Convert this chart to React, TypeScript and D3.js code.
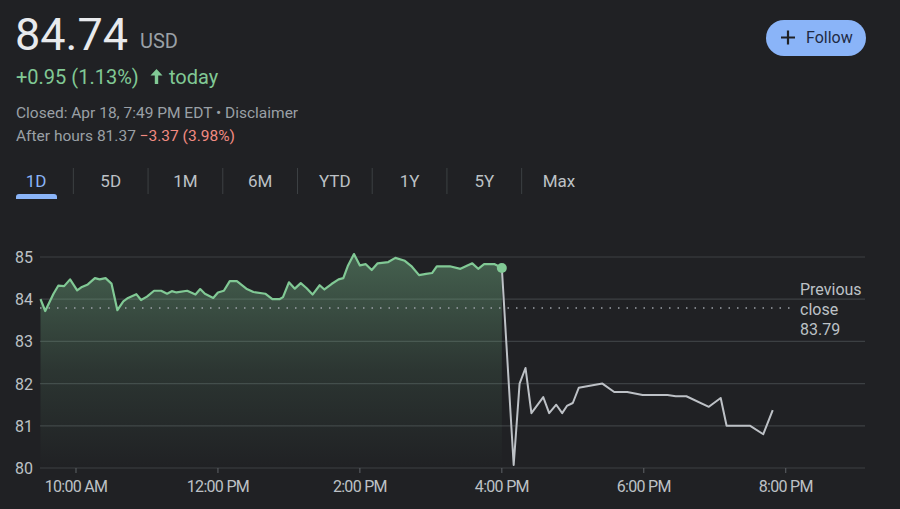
import * as d3 from "d3";

// regular session (Apr 18)
const regularTimes = [
  "09:30", "09:34", "09:41", "09:45", "09:50", "09:55", "10:01", "10:05", "10:10", "10:16",
  "10:20", "10:25", "10:30", "10:35", "10:40", "10:44", "10:51", "10:55", "11:00", "11:06",
  "11:12", "11:17", "11:21", "11:25", "11:34", "11:41", "11:45", "11:49", "11:56", "12:00",
  "12:05", "12:10", "12:16", "12:24", "12:30", "12:40", "12:46", "12:52", "12:55", "13:00",
  "13:05", "13:10", "13:15", "13:20", "13:26", "13:30", "13:36", "13:42", "13:46", "13:50",
  "13:55", "14:00", "14:05", "14:10", "14:15", "14:24", "14:30", "14:38", "14:44", "14:50",
  "14:56", "15:01", "15:05", "15:16", "15:25", "15:35", "15:40", "15:45", "15:54", "16:00",
];
const regularPrices = [
  84.0, 83.72, 84.13, 84.32, 84.31, 84.47, 84.21, 84.29, 84.35, 84.5,
  84.47, 84.5, 84.37, 83.74, 83.95, 84.03, 84.12, 83.98, 84.06, 84.2,
  84.2, 84.13, 84.19, 84.16, 84.2, 84.11, 84.24, 84.13, 84.03, 84.16,
  84.2, 84.43, 84.43, 84.25, 84.17, 84.13, 84.0, 84.0, 84.05, 84.4,
  84.25, 84.38, 84.26, 84.11, 84.33, 84.23, 84.36, 84.47, 84.5, 84.8,
  85.07, 84.8, 84.83, 84.69, 84.85, 84.88, 84.98, 84.91, 84.77, 84.57,
  84.6, 84.62, 84.78, 84.78, 84.72, 84.85, 84.72, 84.83, 84.83, 84.74,
];

// after hours
const afterTimes = [
  "16:00", "16:10", "16:15", "16:20", "16:25", "16:35", "16:40", "16:46", "16:51", "16:55",
  "17:00", "17:05", "17:25", "17:35", "17:46", "17:59", "18:20", "18:27", "18:36", "18:55",
  "19:05", "19:10", "19:30", "19:41", "19:49",
];
const afterPrices = [
  84.74, 80.07, 82.0, 82.37, 81.3, 81.68, 81.3, 81.5, 81.3, 81.47,
  81.54, 81.9, 82.0, 81.8, 81.8, 81.73, 81.73, 81.7, 81.7, 81.45,
  81.66, 81.0, 81.0, 80.8, 81.37,
];

const previousClose = 83.79;
const yTicks = [80, 81, 82, 83, 84, 85];
const xTickTimes = ["10:00", "12:00", "14:00", "16:00", "18:00", "20:00"];
const xTickLabels = ["10:00 AM", "12:00 PM", "2:00 PM", "4:00 PM", "6:00 PM", "8:00 PM"];
const tabs = ["1D", "5D", "1M", "6M", "YTD", "1Y", "5Y", "Max"];

const W = 900;
const H = 509;
const FONT = "Roboto, 'Noto Sans', sans-serif";

const parse = d3.timeParse("%Y-%m-%d %H:%M");
const t = (s: string) => parse("2024-04-18 " + s) as Date;

export default function App() {
  const x = d3.scaleTime()
    .domain([t("09:30"), t("21:07")])
    .range([40.5, 865]);
  const y = d3.scaleLinear()
    .domain([80, 85])
    .range([468, 257]);

  const regular = regularTimes.map((s, i) => ({ d: t(s), v: regularPrices[i] }));
  const after = afterTimes.map((s, i) => ({ d: t(s), v: afterPrices[i] }));

  const line = d3.line<{ d: Date; v: number }>()
    .x(p => x(p.d))
    .y(p => y(p.v));
  const area = d3.area<{ d: Date; v: number }>()
    .x(p => x(p.d))
    .y0(y(80))
    .y1(p => y(p.v));

  const last = regular[regular.length - 1];
  const tabX = d3.scaleLinear().domain([0, 7]).range([36, 559]);

  return (
    <svg width={W} height={H}
      style={{ position: "absolute", left: 0, top: 0, display: "block", background: "#202124" }}
      fontFamily={FONT}>
      <rect width={W} height={H} fill="#202124" />
      <defs>
        <linearGradient id="fillGrad" x1="0" y1="0" x2="0" y2="1">
          <stop offset="0%" stopColor="#81c995" stopOpacity={0.38} />
          <stop offset="55%" stopColor="#81c995" stopOpacity={0.12} />
          <stop offset="100%" stopColor="#81c995" stopOpacity={0} />
        </linearGradient>
      </defs>

      {/* header */}
      <text x={15} y={50} fontSize={45} fill="#e8eaed">84.74</text>
      <text x={140} y={48} fontSize={20} fill="#9aa0a6">USD</text>
      <text x={16} y={84} fontSize={20} fill="#81c995">+0.95 (1.13%)</text>
      <path d="M156.5,69 l-6,6.5 h4.3 v8.5 h3.4 v-8.5 h4.3 z" fill="#81c995" />
      <text x={169} y={84} fontSize={20} fill="#81c995">today</text>
      <text x={16} y={118} fontSize={15.5} fill="#9aa0a6">Closed: Apr 18, 7:49 PM EDT • Disclaimer</text>
      <text x={16} y={141} fontSize={15.5} fill="#9aa0a6">
        After hours 81.37 <tspan fill="#f28b82">−3.37 (3.98%)</tspan>
      </text>

      {/* follow button */}
      <rect x={766} y={20} width={100} height={36} rx={18} fill="#8ab4f8" />
      <path d="M781,37.5 h14 M788,30.5 v14" stroke="#202124" strokeWidth={2.2} />
      <text x={806} y={43} fontSize={16} fill="#1f2a44">Follow</text>

      {/* tabs */}
      {tabs.map((tb, i) => (
        <g key={tb}>
          <text x={tabX(i)} y={187} fontSize={17} textAnchor="middle"
            fill={i === 0 ? "#8ab4f8" : "#bdc1c6"}>{tb}</text>
          {i > 0 && (
            <line x1={(tabX(i) + tabX(i - 1)) / 2} x2={(tabX(i) + tabX(i - 1)) / 2}
              y1={168} y2={194} stroke="#3c4043" />
          )}
        </g>
      ))}
      <path d="M16,199 v-2 a3,3 0 0 1 3,-3 h35 a3,3 0 0 1 3,3 v2 z" fill="#8ab4f8" />

      {/* grid */}
      {yTicks.map(v => (
        <g key={v}>
          <line x1={40} x2={865} y1={y(v)} y2={y(v)} stroke="#3c4043" strokeWidth={1.2} />
          <text x={15} y={y(v) + 6} fontSize={16} fill="#bdc1c6">{v}</text>
        </g>
      ))}

      {/* x axis */}
      {xTickTimes.map((s, i) => (
        <g key={s}>
          <line x1={x(t(s))} x2={x(t(s))} y1={468} y2={473} stroke="#5f6368" />
          <text x={x(t(s))} y={492} fontSize={16} textAnchor="middle" fill="#bdc1c6"
            letterSpacing={-0.7}>{xTickLabels[i]}</text>
        </g>
      ))}

      {/* area + lines */}
      <path d={area(regular) ?? ""} fill="url(#fillGrad)" />
      <line x1={40} x2={795} y1={y(previousClose)} y2={y(previousClose)}
        stroke="#9aa0a6" strokeWidth={1.5} strokeDasharray="1.5,7" />
      <path d={line(after) ?? ""} fill="none" stroke="#bdc1c6" strokeWidth={2} strokeLinejoin="round" />
      <path d={line(regular) ?? ""} fill="none" stroke="#81c995" strokeWidth={2.2} strokeLinejoin="round" />
      <circle cx={x(last.d)} cy={y(last.v)} r={5} fill="#81c995" />

      {/* previous close label */}
      <text x={800} y={295} fontSize={16} fill="#bdc1c6">Previous</text>
      <text x={800} y={315} fontSize={16} fill="#bdc1c6">close</text>
      <text x={800} y={335} fontSize={16} fill="#bdc1c6">{previousClose}</text>
    </svg>
  );
}
